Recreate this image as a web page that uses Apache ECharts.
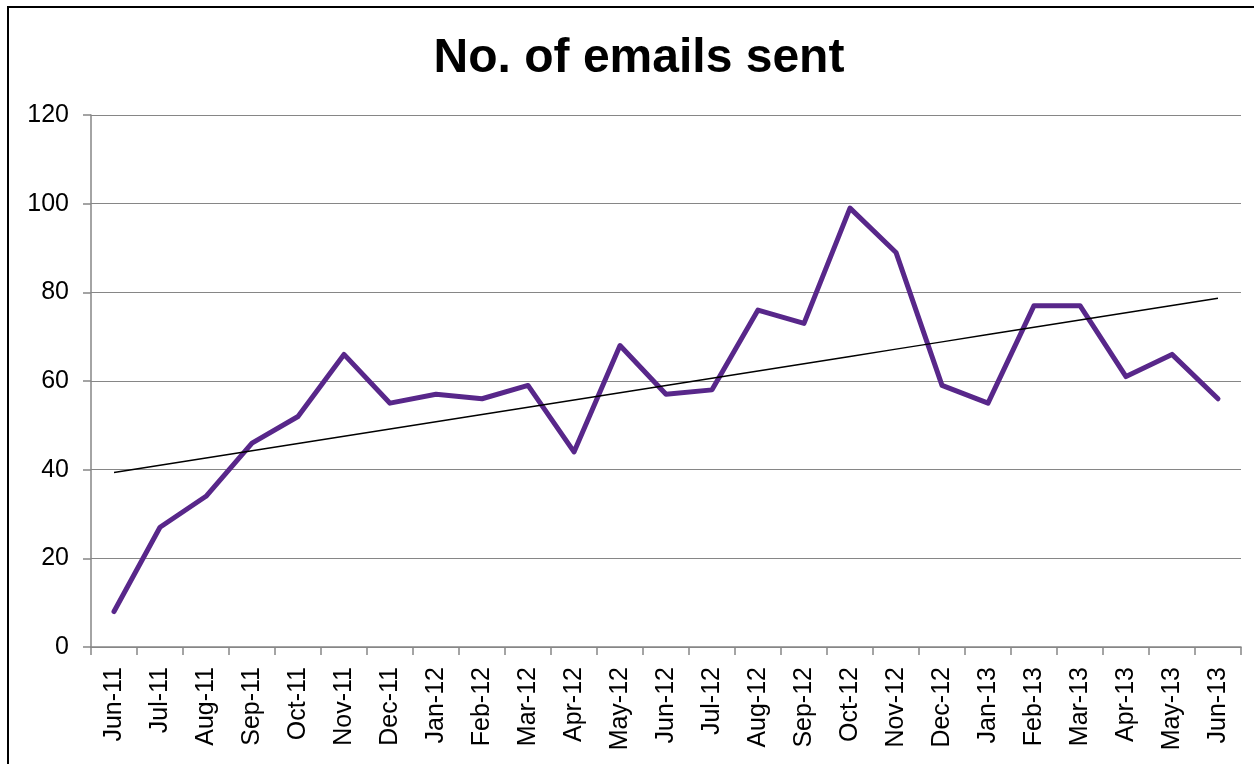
<!DOCTYPE html>
<html><head><meta charset="utf-8">
<script src="https://cdn.jsdelivr.net/npm/echarts@6/dist/echarts.min.js"></script>
<style>
html,body{margin:0;padding:0;background:#fff;}
#frame{position:absolute;left:7px;top:6px;width:1250px;height:800px;border:2px solid #000;box-sizing:border-box;}
#c{position:absolute;left:0;top:0;width:1254px;height:764px;}
</style></head>
<body>
<div id="frame"></div>
<div id="c"></div>
<script>
const categories = ["Jun-11","Jul-11","Aug-11","Sep-11","Oct-11","Nov-11","Dec-11","Jan-12","Feb-12","Mar-12","Apr-12","May-12","Jun-12","Jul-12","Aug-12","Sep-12","Oct-12","Nov-12","Dec-12","Jan-13","Feb-13","Mar-13","Apr-13","May-13","Jun-13"];
const emails = [8,27,34,46,52,66,55,57,56,59,44,68,57,58,76,73,99,89,59,55,77,77,61,66,56];
const yTicks = [0,20,40,60,80,100,120];

// linear trendline (least squares) from the series
const n = emails.length;
const mx = (n-1)/2;
const my = emails.reduce((a,b)=>a+b,0)/n;
let sxy=0,sxx=0;
emails.forEach((v,i)=>{sxy+=(i-mx)*(v-my);sxx+=(i-mx)*(i-mx);});
const slope = sxy/sxx, icpt = my - slope*mx;
const trend = emails.map((v,i)=>+(icpt+slope*i).toFixed(3));

const chart = echarts.init(document.getElementById('c'), null, {renderer:'canvas'});
chart.setOption({
  animation:false,
  backgroundColor:'transparent',
  title:{text:'No. of emails sent',left:634,top:30,textAlign:'center',
    textStyle:{fontFamily:'Liberation Sans, Arial',fontWeight:'bold',fontSize:48,color:'#000'}},
  grid:{left:91,right:13,top:115,bottom:117,containLabel:false},
  xAxis:{type:'category',data:categories,boundaryGap:true,
    axisLine:{lineStyle:{color:'#868686',width:1.5}},
    axisTick:{show:true,length:8,alignWithLabel:false,lineStyle:{color:'#868686',width:1.5}},
    axisLabel:{rotate:90,interval:0,margin:20,fontFamily:'Liberation Sans, Arial',fontSize:25,color:'#000'},
    splitLine:{show:false}},
  yAxis:{type:'value',min:0,max:120,interval:20,
    axisLine:{show:true,lineStyle:{color:'#868686',width:1.5}},
    axisTick:{show:true,length:8,lineStyle:{color:'#868686',width:1.5}},
    axisLabel:{margin:22,fontFamily:'Liberation Sans, Arial',fontSize:25,color:'#000',
      formatter:v=>yTicks.includes(v)?String(v):''},
    splitLine:{lineStyle:{color:'#868686',width:1.2}}},
  series:[
    {type:'line',data:emails,showSymbol:false,symbol:'none',
      lineStyle:{color:'#58278A',width:5,cap:'round',join:'round'},z:3},
    {type:'line',data:trend,showSymbol:false,symbol:'none',
      lineStyle:{color:'#000',width:1.5},z:4}
  ]
});
</script>
</body></html>
